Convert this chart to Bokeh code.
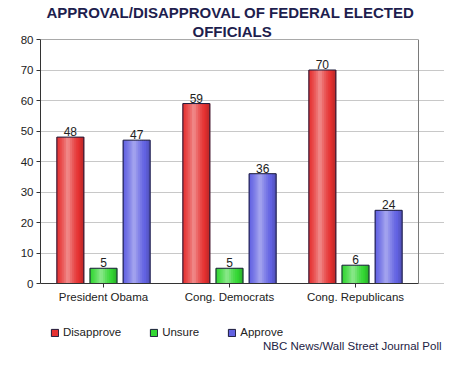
from bokeh.plotting import figure
from bokeh.models import (Range1d, ColumnDataSource, FixedTicker, Title, Legend, Label,
                          LegendItem, LinearAxis, CustomJSTickFormatter)
from bokeh.transform import dodge
from bokeh.core.properties import value
from bokeh.embed import file_html
from bokeh.resources import INLINE

categories = ["President Obama", "Cong. Democrats", "Cong. Republicans"]
disapprove = [48, 59, 70]
unsure = [5, 5, 6]
approve = [47, 36, 24]
series_names = ["Disapprove", "Unsure", "Approve"]
series_values = [disapprove, unsure, approve]
series_colors = ["#e53131", "#33d633", "#6262e2"]
y_ticks = [0, 10, 20, 30, 40, 50, 60, 70, 80]

FONT = "Liberation Sans"
W, H = 444, 352

# layout (canvas pixels): plot box left/right/top/zero line; frame extends to canvas edges
box_left, box_right, box_top, box_zero = 40, 418, 39, 283
ncat = len(categories)
ymax = y_ticks[-1]
y_per_px = ymax / (box_zero - box_top)
ymin = -(H - box_zero) * y_per_px
x_per_px = ncat / (box_right - box_left)
xmax = (W - box_left) * x_per_px
xs = [i + 0.5 for i in range(ncat)]

p = figure(x_range=Range1d(0, xmax), y_range=Range1d(ymin, ymax),
           width=W, height=H, output_backend="svg", toolbar_location=None,
           min_border_left=box_left, min_border_right=0, min_border_top=box_top, min_border_bottom=0)
p.title.visible = False
p.background_fill_color = "white"
p.border_fill_color = "white"
p.outline_line_color = None
p.xgrid.grid_line_color = None
p.ygrid.grid_line_color = "#c8c8c8"
p.ygrid.grid_line_width = 1
p.ygrid.bounds = (0, ncat)

p.yaxis.ticker = FixedTicker(ticks=y_ticks)
p.yaxis.bounds = (0, ymax)
p.xaxis.fixed_location = 0
p.xaxis.bounds = (0, ncat)
p.xaxis.ticker = FixedTicker(ticks=xs)
p.xaxis.formatter = CustomJSTickFormatter(args=dict(cats=categories),
                                          code="return cats[Math.floor(tick)];")
for ax in (p.xaxis, p.yaxis):
    ax.axis_line_color = "#333333"
    ax.major_tick_line_color = "#333333"
    ax.major_tick_in = 0
    ax.major_tick_out = 4
    ax.minor_tick_line_color = None
    ax.major_label_text_font = FONT
    ax.major_label_text_font_size = "11.5px"
    ax.major_label_text_color = "#222222"
    ax.major_label_standoff = 3

right_ax = LinearAxis(bounds=(0, ymax), ticker=FixedTicker(ticks=[]), fixed_location=ncat,
                      major_label_text_font_size="0px", axis_line_color="#7a7a7a",
                      major_tick_line_color=None, minor_tick_line_color=None)
p.add_layout(right_ax, "right")
top_ax = LinearAxis(bounds=(0, ncat), ticker=FixedTicker(ticks=[]), fixed_location=ymax,
                    major_label_text_font_size="0px", axis_line_color="#555555",
                    major_tick_line_color=None, minor_tick_line_color=None)
p.add_layout(top_ax, "above")

offsets = [-0.263, 0.0, 0.263]
bw = 0.214

def hex2rgb(h):
    h = h.lstrip("#")
    return [int(h[i:i + 2], 16) for i in (0, 2, 4)]

def mix(c, t, a):
    return "#%02x%02x%02x" % tuple(int(round(c[i] + (t[i] - c[i]) * a)) for i in range(3))

n_strips = 14
legend_items = []
for name, vals, col, off in zip(series_names, series_values, series_colors, offsets):
    src = ColumnDataSource(dict(x=xs, val=vals, lab=[str(v) for v in vals]))
    base = hex2rgb(col)
    for i in range(n_strips):
        t = (i + 0.5) / n_strips
        d = abs(t - 0.42)
        hl = max(0.0, 1 - d / 0.4)
        if hl > 0:
            c = mix(base, [255, 255, 255], 0.45 * hl ** 1.3)
        else:
            c = mix(base, [0, 0, 0], 0.15 * min(1.0, (d - 0.4) / 0.15))
        sw = bw / n_strips
        p.vbar(x=dodge("x", off - bw / 2 + (i + 0.5) * sw), top="val",
               width=sw * 1.4, source=src, fill_color=c, line_color=None)
    p.vbar(x=dodge("x", off), top="val", width=bw, source=src,
           fill_color=None, line_color="#1a1a3a", line_width=1)
    leg = p.vbar(x=dodge("x", off), top="val", width=bw, source=src,
                 fill_color=col, line_color="#1a1a3a", line_width=1, visible=False)
    legend_items.append(LegendItem(label=name, renderers=[leg]))
    p.text(x=dodge("x", off), y="val", text="lab", source=src,
           text_align="center", text_baseline="bottom", y_offset=-1,
           text_font=value(FONT), text_font_size="12px", text_color="#222222")

legend = Legend(items=legend_items, orientation="horizontal", location=(10, 14),
                background_fill_alpha=0, border_line_color=None, padding=0, margin=0,
                spacing=28, glyph_width=9, glyph_height=9, label_standoff=4,
                label_text_font=FONT, label_text_font_size="11.5px", label_text_color="#222222")
p.add_layout(legend, "center")

p.add_layout(Label(x=W - box_left - 3, y=7, x_units="screen", y_units="screen",
                   text="NBC News/Wall Street Journal Poll", text_align="right",
                   text_baseline="middle", text_font=FONT, text_font_size="11.5px",
                   text_color="#222244"))

title_col = "#1e1e4e"
p.add_layout(Title(text="OFFICIALS", align="left", offset=152, text_font=FONT,
                   text_font_size="15px", text_font_style="bold", text_color=title_col,
                   standoff=0), "above")
p.add_layout(Title(text="APPROVAL/DISAPPROVAL OF FEDERAL ELECTED", align="left", offset=6,
                   text_font=FONT, text_font_size="15px", text_font_style="bold",
                   text_color=title_col, standoff=0), "above")

open("out.html", "w").write(file_html(p, INLINE))
